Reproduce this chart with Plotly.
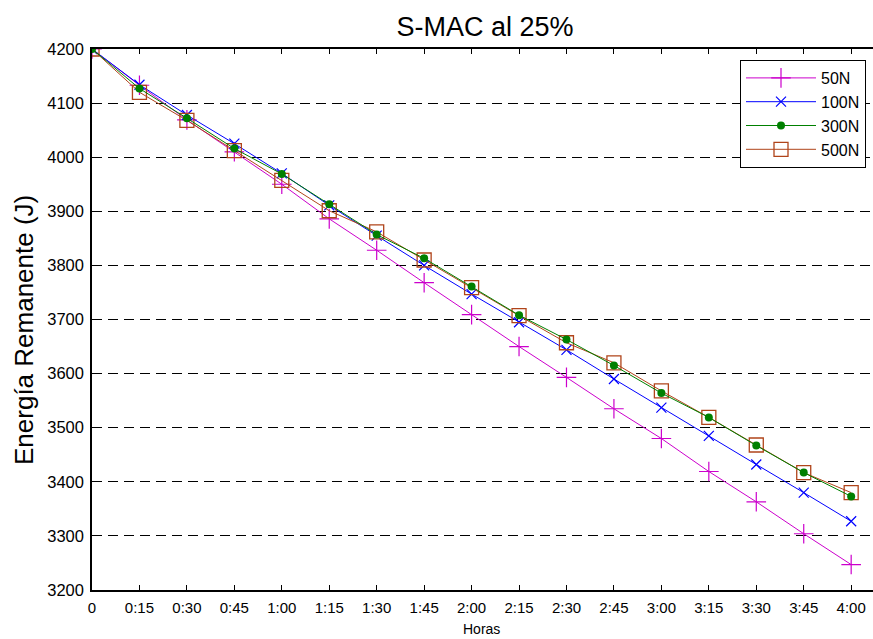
import plotly.graph_objects as go

horas = ["0", "0:15", "0:30", "0:45", "1:00", "1:15", "1:30", "1:45", "2:00",
         "2:15", "2:30", "2:45", "3:00", "3:15", "3:30", "3:45", "4:00"]
e50 = [4200, 4133, 4069, 4010, 3950, 3886, 3828, 3768, 3709, 3650, 3593, 3535,
       3480, 3419, 3363, 3304, 3247]
e100 = [4200, 4134, 4078, 4025, 3970, 3911, 3855, 3800, 3747, 3695, 3644, 3590,
        3537, 3485, 3432, 3380, 3327]
e300 = [4200, 4127, 4072, 4016, 3969, 3913, 3857, 3813, 3761, 3708, 3663, 3615,
        3564, 3519, 3467, 3417, 3373]
e500 = [4200, 4120, 4068, 4012, 3957, 3901, 3862, 3810, 3759, 3707, 3657, 3620,
        3568, 3519, 3468, 3417, 3380]
y_ticks = [3200, 3300, 3400, 3500, 3600, 3700, 3800, 3900, 4000, 4100, 4200]

FONT = "Liberation Sans, Arial, Helvetica, sans-serif"

fig = go.Figure()
fig.add_trace(go.Scatter(x=horas, y=e50, name="50N", mode="lines+markers",
                         line=dict(color="#cc00cc", width=1),
                         marker=dict(symbol="cross-thin-open", size=14,
                                     line=dict(color="#cc00cc", width=1.2)),
                         legendrank=1))
fig.add_trace(go.Scatter(x=horas, y=e100, name="100N", mode="lines+markers",
                         line=dict(color="#0000ff", width=1),
                         marker=dict(symbol="x-thin-open", size=10,
                                     line=dict(color="#0000ff", width=1.2)),
                         legendrank=2))
fig.add_trace(go.Scatter(x=horas, y=e500, name="500N", mode="lines+markers",
                         line=dict(color="#b0441a", width=1),
                         marker=dict(symbol="square-open", size=14,
                                     line=dict(color="#b0441a", width=1.3)),
                         legendrank=4))
fig.add_trace(go.Scatter(x=horas, y=e300, name="300N", mode="lines+markers",
                         line=dict(color="#008000", width=1),
                         marker=dict(symbol="circle", size=8, color="#008000"),
                         legendrank=3))

fig.update_layout(
    width=873, height=639,
    margin=dict(l=92, r=0, t=49, b=49),
    paper_bgcolor="white", plot_bgcolor="white",
    font=dict(family=FONT, color="black", size=15),
    title=dict(text="S-MAC al 25%", x=485 / 873, xref="container", xanchor="center",
               y=1 - 27 / 639, yref="container", yanchor="middle",
               font=dict(size=27, family=FONT, color="black")),
    showlegend=True,
    legend=dict(x=(740 - 92) / 781, y=1 - (60 - 49) / 541, xanchor="left", yanchor="top",
                bgcolor="white", bordercolor="black", borderwidth=1,
                font=dict(size=16, family=FONT, color="black"),
                itemwidth=70, tracegroupgap=0),
)

fig.update_xaxes(
    type="category", categoryorder="array", categoryarray=horas,
    range=[0, 16.46], showgrid=False, zeroline=False,
    showline=True, linecolor="black", linewidth=1.5, mirror="ticks",
    ticks="inside", ticklen=5, tickcolor="black", tickwidth=1,
    tickfont=dict(size=15, family=FONT), ticklabelstandoff=3,
)
fig.update_yaxes(
    range=[3200, 4200], tickvals=y_ticks, zeroline=False,
    showgrid=True, gridcolor="black", gridwidth=1, griddash="10px,6px",
    showline=True, linecolor="black", linewidth=1.5, mirror=False,
    ticks="inside", ticklen=5, tickcolor="black", tickwidth=1,
    tickfont=dict(size=16.5, family=FONT), ticklabelstandoff=3,
)

fig.add_annotation(text="Energía Remanente (J)", textangle=-90, showarrow=False,
                   xref="paper", yref="paper", x=(24 - 92) / 781, y=1 - (330 - 49) / 541,
                   xanchor="center", yanchor="middle",
                   font=dict(size=26, family=FONT, color="black"))
fig.add_annotation(text="Horas", showarrow=False,
                   xref="paper", yref="paper", x=(481 - 92) / 781, y=-(629 - 590) / 541,
                   xanchor="center", yanchor="middle",
                   font=dict(size=14, family=FONT, color="black"))

fig.write_html("out.html", config={"displayModeBar": False},
               post_script="document.body.style.margin='0';document.body.style.padding='0';")
